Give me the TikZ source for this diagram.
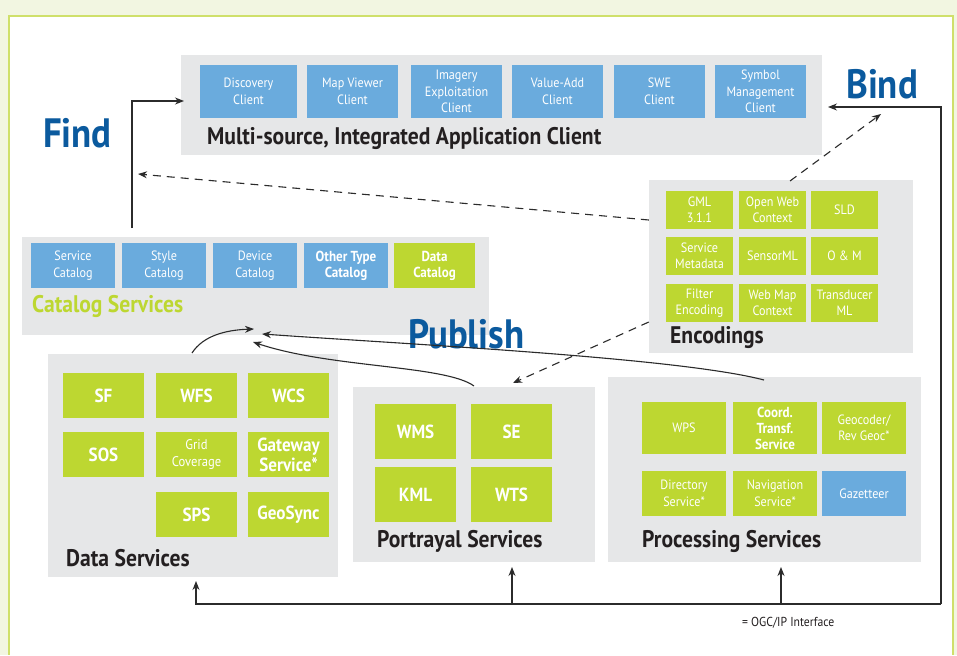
\documentclass[tikz,border=0pt]{standalone}
\usepackage{fontspec}
\setmainfont{PT Sans}[FakeStretch=0.9]
\usepackage{tikz}
\usetikzlibrary{arrows.meta}

\definecolor{panelgray}{HTML}{E6E7E8}
\definecolor{ogcblue}{HTML}{6AABDD}
\definecolor{ogcgreen}{HTML}{BDD731}
\definecolor{titleblue}{HTML}{0B5A9E}
\definecolor{bgouter}{HTML}{F2F6E1}
\definecolor{framegreen}{HTML}{CFE06A}
\definecolor{inkline}{HTML}{2B2B2B}
\definecolor{inktext}{HTML}{231F20}

\begin{document}
\begin{tikzpicture}[x=1pt,y=-1pt,
  >={Stealth[length=9pt,width=7pt]},
  panel/.style={fill=panelgray,inner sep=0pt},
  cell/.style={text=white,align=center,inner sep=0pt,font=\fontsize{13.5}{16.5}\selectfont},
  bluebox/.style={cell,fill=ogcblue},
  greenbox/.style={cell,fill=ogcgreen},
  boldcell/.style={font=\fontsize{14.5}{16}\selectfont\bfseries},
  bigcell/.style={font=\fontsize{19}{20}\selectfont\bfseries},
  paneltitle/.style={anchor=base west,inner sep=0pt,text=inktext,font=\fontsize{24}{26}\selectfont\bfseries},
  verb/.style={anchor=base west,inner sep=0pt,text=titleblue,font=\fontsize{41}{41}\selectfont\bfseries},
  link/.style={draw=inkline,line width=1.1pt},
  dlink/.style={link,dash pattern=on 8pt off 6pt}]
\useasboundingbox (0,0) rectangle (957,655);
\fill[bgouter] (0,0) rectangle (957,655);
\fill[white] (9,16) rectangle (953,655);
\draw[framegreen,line width=1.5pt] (9,655) -- (9,16) -- (953,16) -- (953,655);

% client
\node[panel,minimum width=641,minimum height=100] (client) at (501.5,105) {};
\node[bluebox,minimum width=97,minimum height=53] (disc) at (248.5,91.5) {Discovery\\Client};
\node[bluebox,minimum width=91,minimum height=53] (mapv) at (352.5,91.5) {Map Viewer\\Client};
\node[bluebox,minimum width=91,minimum height=53] (imag) at (456.5,91.5) {Imagery\\Exploitation\\Client};
\node[bluebox,minimum width=91,minimum height=53] (vadd) at (557.5,91.5) {Value-Add\\Client};
\node[bluebox,minimum width=91,minimum height=53] (swe) at (659.5,91.5) {SWE\\Client};
\node[bluebox,minimum width=91,minimum height=53] (symb) at (760.5,91.5) {Symbol\\Management\\Client};
\node[paneltitle] (clienttitle) at (207,145) {Multi-source, Integrated Application Client};

% catalog
\node[panel,minimum width=467,minimum height=98] (catalog) at (255.5,286) {};
\node[bluebox,minimum width=84,minimum height=45] (scat) at (73,265.5) {Service\\Catalog};
\node[bluebox,minimum width=84,minimum height=45] (stcat) at (164,265.5) {Style\\Catalog};
\node[bluebox,minimum width=84,minimum height=45] (dcat) at (255,265.5) {Device\\Catalog};
\node[bluebox,boldcell,minimum width=84,minimum height=45] (ocat) at (346,265.5) {Other Type\\Catalog};
\node[greenbox,boldcell,minimum width=81,minimum height=45] (datcat) at (434.5,265.5) {Data\\Catalog};
\node[paneltitle,text=ogcgreen] (cattitle) at (32,312) {Catalog Services};

% encodings
\node[panel,minimum width=264,minimum height=173] (enc) at (781,266.5) {};
\node[greenbox,minimum width=67,minimum height=38] (gml) at (699.5,210) {GML\\3.1.1};
\node[greenbox,minimum width=67,minimum height=38] (owc) at (772.5,210) {Open Web\\Context};
\node[greenbox,minimum width=67,minimum height=38] (sld) at (844.5,210) {SLD};
\node[greenbox,minimum width=67,minimum height=38] (smeta) at (699.5,256) {Service\\Metadata};
\node[greenbox,minimum width=67,minimum height=38] (sml) at (772.5,256) {SensorML};
\node[greenbox,minimum width=67,minimum height=38] (om) at (844.5,256) {O \& M};
\node[greenbox,minimum width=67,minimum height=38] (fenc) at (699.5,303) {Filter\\Encoding};
\node[greenbox,minimum width=67,minimum height=38] (wmc) at (772.5,303) {Web Map\\Context};
\node[greenbox,minimum width=67,minimum height=38] (tml) at (844.5,303) {Transducer\\ML};
\node[paneltitle] (enctitle) at (670,343) {Encodings};

% data services
\node[panel,minimum width=290,minimum height=223] (data) at (193,465.5) {};
\node[greenbox,bigcell,minimum width=81,minimum height=45] (sf) at (103.5,395.5) {SF};
\node[greenbox,bigcell,minimum width=81,minimum height=45] (wfs) at (196.5,395.5) {WFS};
\node[greenbox,bigcell,minimum width=81,minimum height=45] (wcs) at (288.5,395.5) {WCS};
\node[greenbox,bigcell,minimum width=81,minimum height=45] (sos) at (103.5,454.5) {SOS};
\node[greenbox,font=\fontsize{14}{16.5}\selectfont,minimum width=81,minimum height=45] (grid) at (196.5,454.5) {Grid\\Coverage};
\node[greenbox,bigcell,minimum width=81,minimum height=45] (gate) at (288.5,454.5) {Gateway\\Service*};
\node[greenbox,bigcell,minimum width=81,minimum height=45] (sps) at (196.5,514.5) {SPS};
\node[greenbox,bigcell,minimum width=81,minimum height=45] (geos) at (288.5,514.5) {GeoSync};
\node[paneltitle] (datatitle) at (66,566) {Data Services};

% portrayal services
\node[panel,minimum width=242,minimum height=175] (portr) at (474,474.5) {};
\node[greenbox,bigcell,minimum width=81,minimum height=55] (wms) at (415.5,431.5) {WMS};
\node[greenbox,bigcell,minimum width=81,minimum height=55] (se) at (511.5,431.5) {SE};
\node[greenbox,bigcell,minimum width=81,minimum height=55] (kml) at (415.5,494.5) {KML};
\node[greenbox,bigcell,minimum width=81,minimum height=55] (wts) at (511.5,494.5) {WTS};
\node[paneltitle] (portrtitle) at (377,547) {Portrayal Services};

% processing services
\node[panel,minimum width=313,minimum height=185] (proc) at (764.5,469.5) {};
\node[greenbox,minimum width=84,minimum height=52] (wps) at (684,428) {WPS};
\node[greenbox,boldcell,minimum width=84,minimum height=52] (coord) at (775,428) {Coord.\\Transf.\\Service};
\node[greenbox,minimum width=84,minimum height=52] (geoc) at (864,428) {Geocoder/\\Rev Geoc*};
\node[greenbox,minimum width=84,minimum height=45] (dirs) at (684,493.5) {Directory\\Service*};
\node[greenbox,minimum width=84,minimum height=45] (navs) at (775,493.5) {Navigation\\Service*};
\node[bluebox,minimum width=84,minimum height=45] (gaz) at (864,493.5) {Gazetteer};
\node[paneltitle] (proctitle) at (642,547) {Processing Services};

% find, bind, publish
\node[verb] (find) at (43,148) {Find};
\node[verb] (bind) at (846,99) {Bind};
\node[verb] (publish) at (408,348) {Publish};

\coordinate (findfoot) at (132,228);
\coordinate (findtip) at (184,101);
\draw[link,->] (findfoot) |- (findtip);

\coordinate (bus) at (941,604);
\coordinate (bindtip) at (828,107);
\draw[link,->] (bus) |- (bindtip);
\draw[link,->] (bus) -| (196,581);
\draw[link,->] (bus -| 512,0) -- (512,567);
\draw[link,->] (bus -| 781,0) -- (781,567);

\draw[dlink,->] (enc.west |- 0,220) -- (138,174);
\draw[dlink,->] (790,181) -- (881,114);
\draw[dlink,->] (enc.west |- 0,322) -- (513,383);

\draw[link,->] (192,353) .. controls (203,336) and (225,330) .. (254,329);
\draw[link,->] (764,380) .. controls (680,358) and (420,345) .. (262,334);
\draw[link,->] (474,386) .. controls (445,365) and (330,368) .. (253,342);

\node[anchor=base west,inner sep=0pt,text=inktext,font=\fontsize{13}{15}\selectfont] (ogcnote) at (742,626) {= OGC/IP Interface};
\end{tikzpicture}
\end{document}
